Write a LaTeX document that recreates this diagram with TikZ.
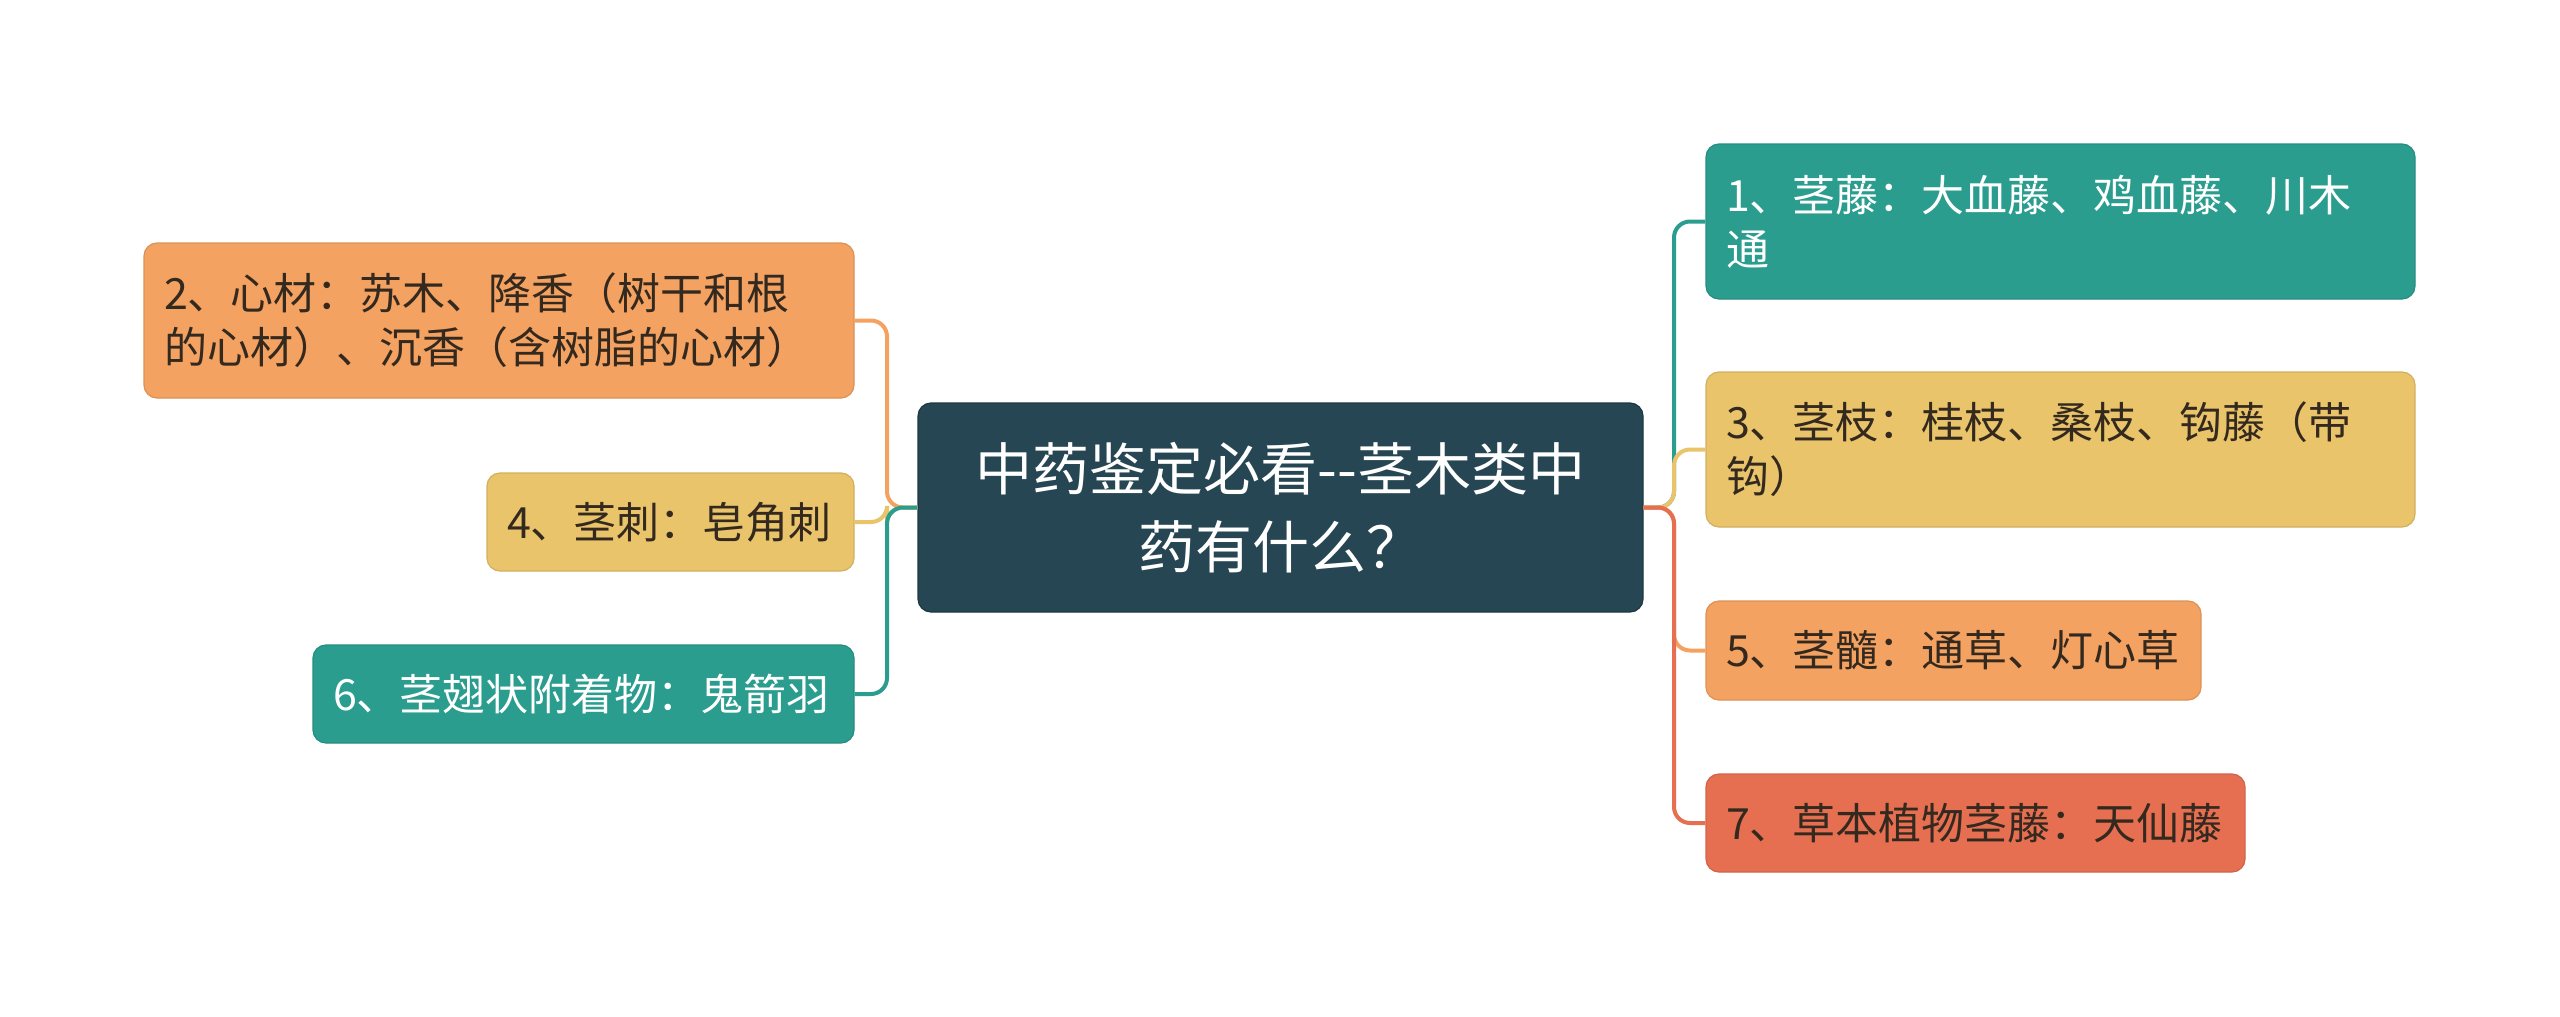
\documentclass[tikz,border=0pt]{standalone}
\usepackage{fontspec}
\setmainfont{Noto Sans CJK SC}
\definecolor{cdark}{HTML}{264653}
\definecolor{cteal}{HTML}{2A9D8F}
\definecolor{cyellow}{HTML}{E9C46A}
\definecolor{corange}{HTML}{F4A261}
\definecolor{cred}{HTML}{E76F51}
\definecolor{ctext}{HTML}{33291F}
\begin{document}
\begin{tikzpicture}[x=1pt,y=-1pt,
  box/.style={rectangle, rounded corners=13pt, inner xsep=20pt, inner ysep=0pt,
    font=\fontsize{43}{54}\selectfont, align=left, line width=1.2pt},
  title/.style={rectangle, rounded corners=13pt, inner sep=0pt, fill=cdark, draw=cdark!80!black,
    line width=1.2pt, text=white, align=center, font=\fontsize{57}{78}\selectfont,
    minimum width=725pt, minimum height=209pt},
  conn/.style={line width=4pt, rounded corners=16pt}
]
\useasboundingbox (0,0) rectangle (2560,1017);
\fill[white] (0,0) rectangle (2560,1017);

\node[title] (c) at (1280.5,507.5) {中药鉴定必看-{}-茎木类中\\药有什么？};

\node[box, fill=corange, draw=corange!90!black, text=ctext, text width=670pt, minimum height=155pt] (n2) at (499,320.5)
  {2、心材：苏木、降香（树干和根\\的心材）、沉香（含树脂的心材）};
\node[box, fill=cyellow, draw=cyellow!90!black, text=ctext, text width=327pt, minimum height=98pt] (n4) at (670.5,522)
  {4、茎刺：皂角刺};
\node[box, fill=cteal, draw=cteal!90!black, text=white, text width=501pt, minimum height=98pt] (n6) at (583.5,694)
  {6、茎翅状附着物：鬼箭羽};

\node[box, fill=cteal, draw=cteal!90!black, text=white, text width=669pt, minimum height=155pt] (n1) at (2060.5,221.5)
  {1、茎藤：大血藤、鸡血藤、川木\\通};
\node[box, fill=cyellow, draw=cyellow!90!black, text=ctext, text width=669pt, minimum height=155pt] (n3) at (2060.5,449.5)
  {3、茎枝：桂枝、桑枝、钩藤（带\\钩）};
\node[box, fill=corange, draw=corange!90!black, text=ctext, text width=455pt, minimum height=99pt] (n5) at (1953.5,650.5)
  {5、茎髓：通草、灯心草};
\node[box, fill=cred, draw=cred!90!black, text=ctext, text width=499pt, minimum height=98pt] (n7) at (1975.5,823)
  {7、草本植物茎藤：天仙藤};

\coordinate (tl) at (887,507.5);
\coordinate (tr) at (1674,507.5);

\draw[conn, corange] (c.west) -- (c.west -| tl) |- (n2.east);
\draw[conn, cyellow] (c.west) -- (c.west -| tl) |- (n4.east);
\draw[conn, cteal] (c.west) -- (c.west -| tl) |- (n6.east);

\draw[conn, cteal] (c.east) -- (c.east -| tr) |- (n1.west);
\draw[conn, cyellow] (c.east) -- (c.east -| tr) |- (n3.west);
\draw[conn, corange] (c.east) -- (c.east -| tr) |- (n5.west);
\draw[conn, cred] (c.east) -- (c.east -| tr) |- (n7.west);
\end{tikzpicture}
\end{document}
